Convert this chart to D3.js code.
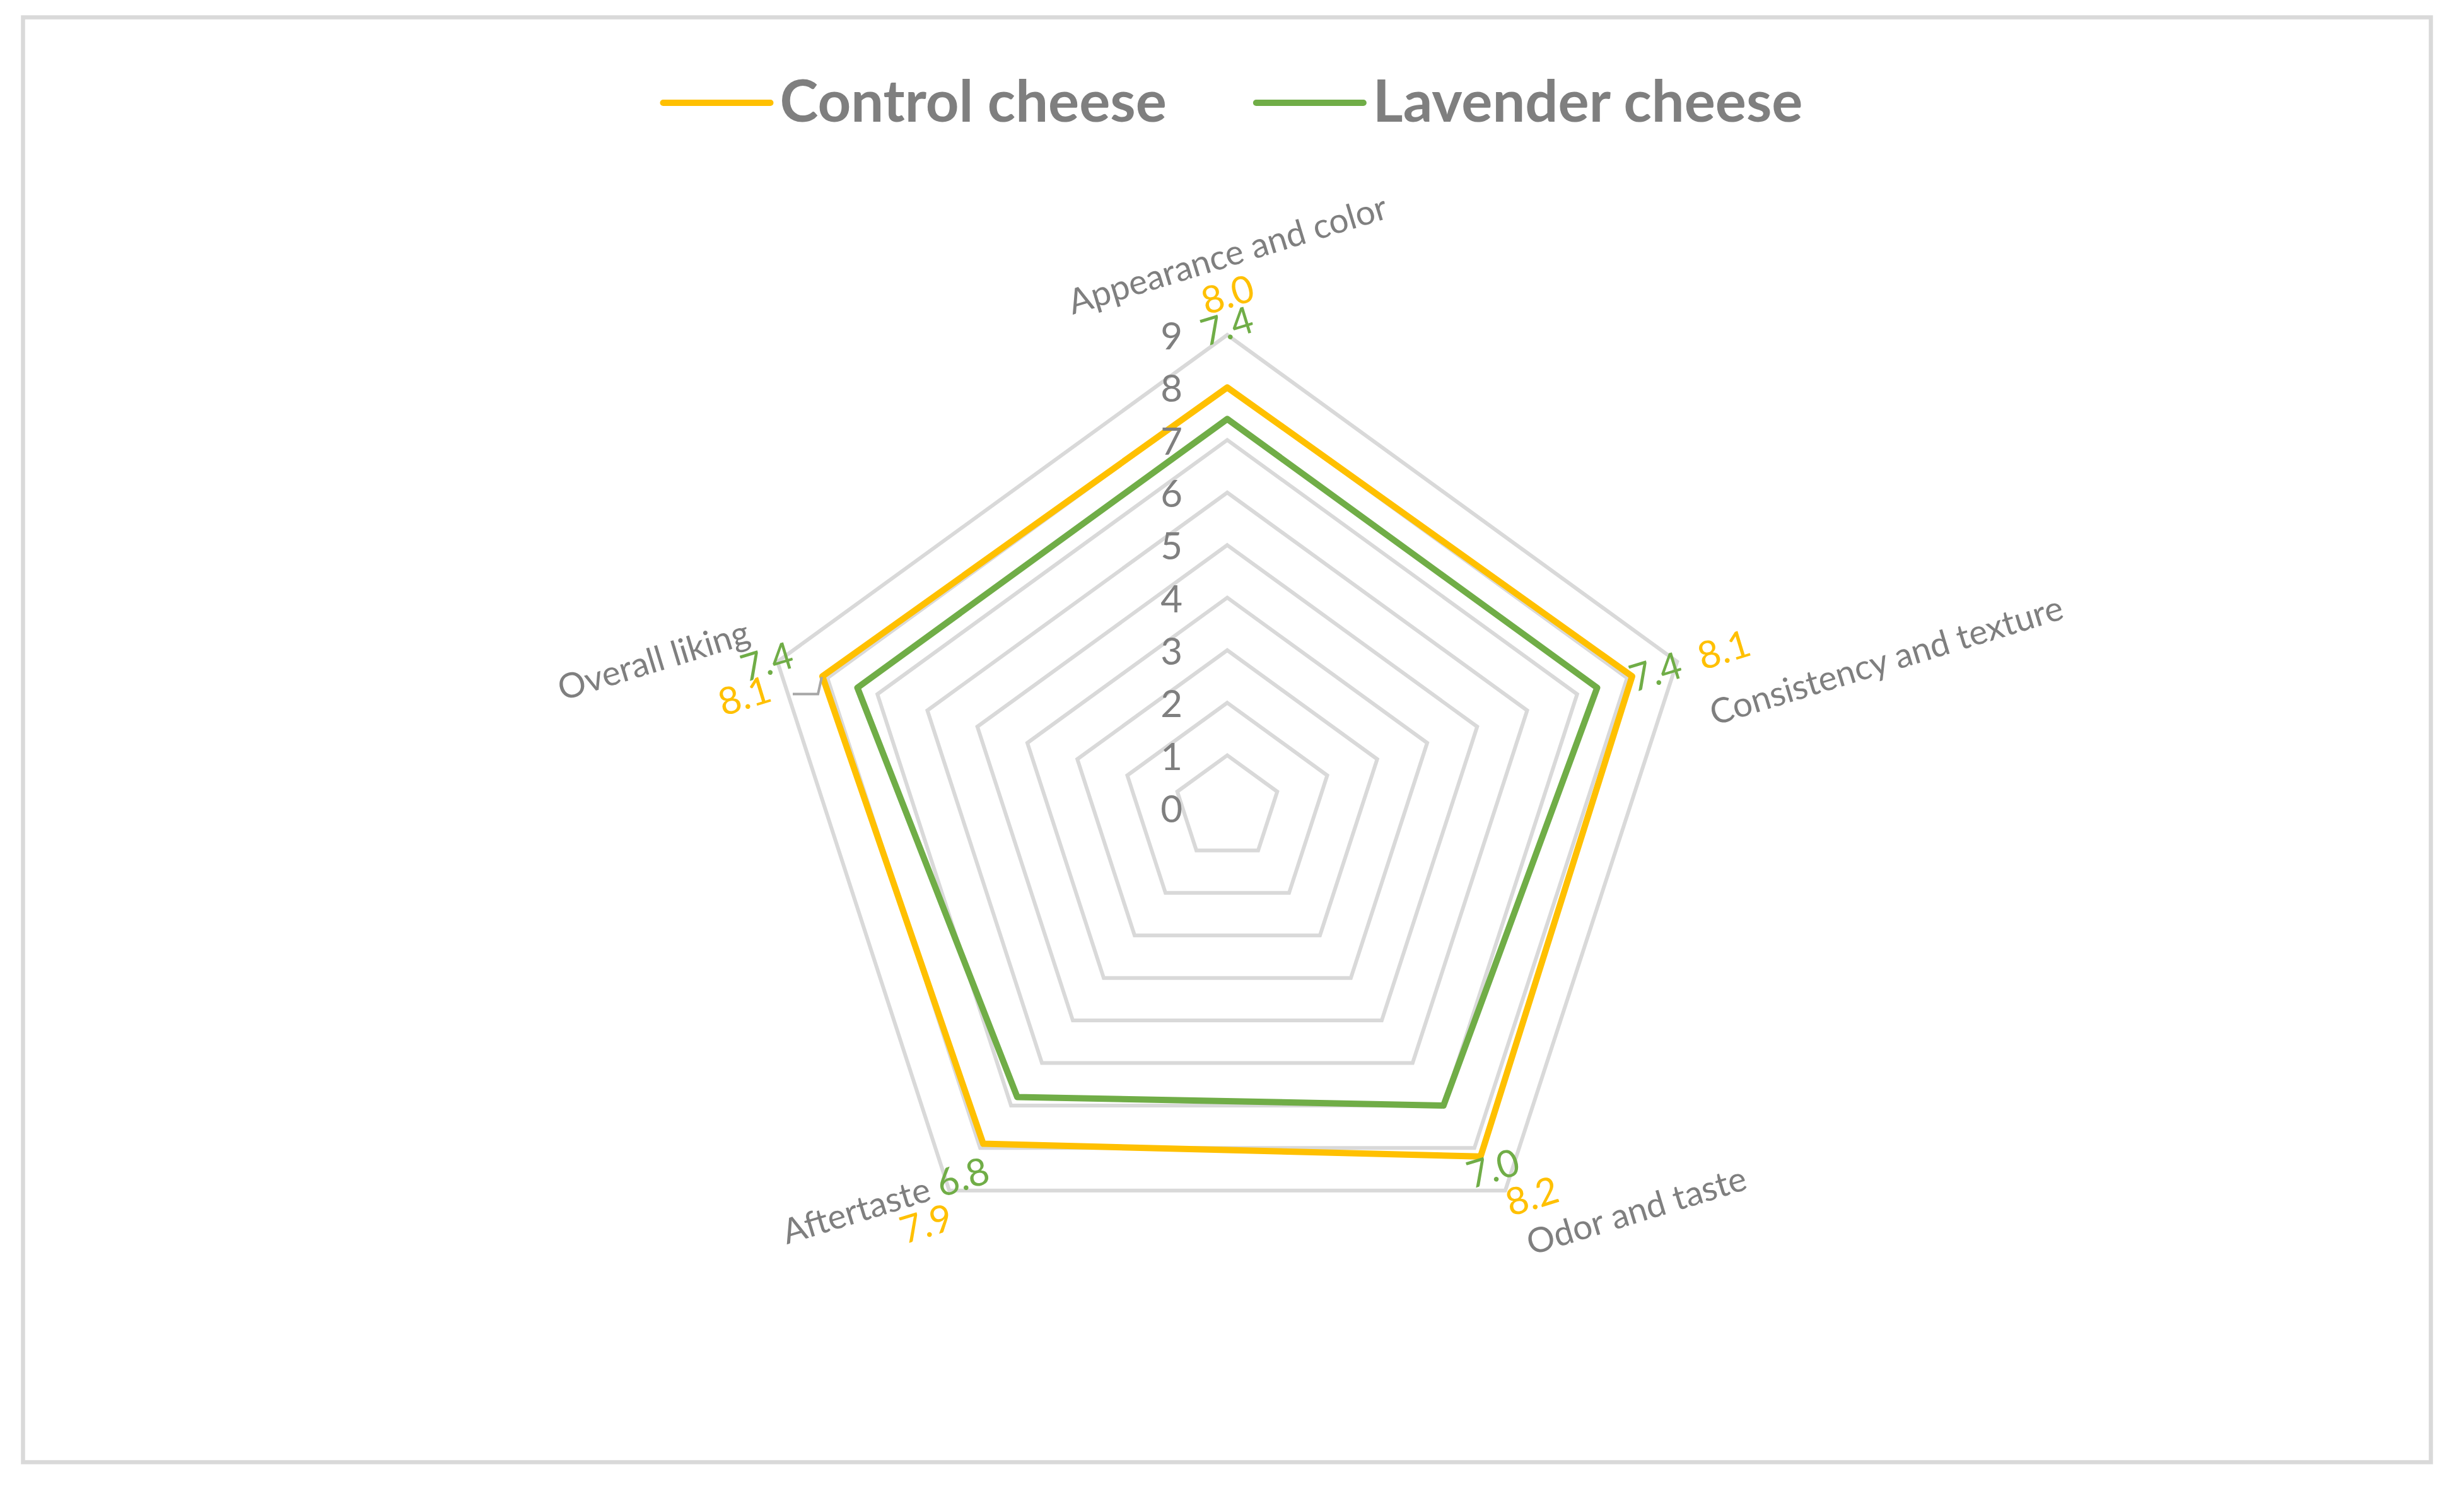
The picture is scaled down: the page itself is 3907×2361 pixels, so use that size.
<!DOCTYPE html>
<html><head><meta charset="utf-8">
<script src="https://cdn.jsdelivr.net/npm/d3@7"></script>
<style>
html,body{margin:0;padding:0;background:#fff;}
svg{display:block;}
text{font-family:Lato,"Open Sans",sans-serif;}
</style>
</head><body>
<svg id="chart" width="3907" height="2361"></svg>
<script>
// ---------- data ----------
const categories = ["Appearance and color","Consistency and texture","Odor and taste","Aftertaste","Overall liking"];
const seriesNames = ["Control cheese","Lavender cheese"];
const controlValues = [8.0, 8.1, 8.2, 7.9, 8.1];
const lavenderValues = [7.4, 7.4, 7.0, 6.8, 7.4];
const tickValues = [0,1,2,3,4,5,6,7,8,9];

// ---------- styling / layout ----------
const colors = ["#FFC000","#70AD47"];
const textGray = "#7f7f7f", gridGray = "#d9d9d9";
const W = 3907, H = 2361, cx = 1946, cy = 1281, R = 750;
const rot = -17;
// data label offsets relative to the point (per series, per category)
const labelOffsets = [
  [[0,-149],[145,-44],[81,61],[-91,125],[-124,29]],
  [[-1,-149],[92,-27],[78,98],[-87,125],[-144,-43]]
];

const svg = d3.select("#chart");
svg.append("rect").attr("width",W).attr("height",H).attr("fill","#fff");
svg.append("rect").attr("x",36.5).attr("y",27.5).attr("width",3818).attr("height",2291)
  .attr("fill","none").attr("stroke",gridGray).attr("stroke-width",6.5);

const r = d3.scaleLinear().domain([0, d3.max(tickValues)]).range([0, R]);
const ang = d3.scaleLinear().domain([0, categories.length]).range([0, 2*Math.PI]);
const pt = (i, v) => [cx + r(v)*Math.sin(ang(i)), cy - r(v)*Math.cos(ang(i))];

const g = svg.append("g").attr("transform", `translate(${cx},${cy})`);
const radial = d3.lineRadial().curve(d3.curveLinearClosed);

// grid rings
g.selectAll("path.ring").data(tickValues.filter(t => t > 0)).join("path")
  .attr("class","ring")
  .attr("d", t => radial(categories.map((c,i) => [ang(i), r(t)])))
  .attr("fill","none").attr("stroke",gridGray).attr("stroke-width",6)
  .attr("stroke-linejoin","miter");

// tick labels
svg.selectAll("text.tick").data(tickValues).join("text")
  .attr("class","tick")
  .attr("x", cx - 71).attr("y", t => cy - r(t))
  .attr("text-anchor","end").attr("dominant-baseline","central")
  .attr("font-size",60).attr("fill",textGray)
  .text(t => t);

// series
const series = [controlValues, lavenderValues];
g.selectAll("path.series").data(series).join("path")
  .attr("class","series")
  .attr("d", vals => radial(vals.map((v,i) => [ang(i), r(v)])))
  .attr("fill","none")
  .attr("stroke", (d,k) => colors[k])
  .attr("stroke-width",10)
  .attr("stroke-linejoin","round");

// leader line for control "Overall liking" label
{
  const [px, py] = pt(4, controlValues[4]);
  svg.append("path")
    .attr("d", d3.line()([[px - 1, py + 1], [px - 7, py + 28], [px - 47, py + 28]]))
    .attr("fill","none").attr("stroke","#a6a6a6").attr("stroke-width",4);
}

// data labels
series.forEach((vals, k) => {
  svg.selectAll(`text.dl${k}`).data(vals).join("text")
    .attr("class", `dl${k}`)
    .attr("transform", (v,i) => {
      const [px,py] = pt(i, v);
      const [dx,dy] = labelOffsets[k][i];
      return `translate(${px+dx},${py+dy}) rotate(${rot})`;
    })
    .attr("text-anchor","middle").attr("dominant-baseline","central")
    .attr("font-size",60).attr("fill",colors[k])
    .text(v => d3.format(".1f")(v));
});

// category labels
const maxT = d3.max(tickValues);
categories.forEach((c, i) => {
  const a = ang(i);
  const [vx, vy] = pt(i, maxT);
  const t = svg.append("text")
    .attr("text-anchor","middle").attr("dominant-baseline","central")
    .attr("font-size",55).attr("fill",textGray).text(c);
  const w = t.node().getComputedTextLength();
  const s = Math.sin(a), co = Math.cos(a);
  let x, y;
  if (Math.abs(s) < 0.1) { x = vx; y = vy - 129; }
  else if (co > -0.5) { x = vx + Math.sign(s)*(40 + w/2); y = vy - 4; }
  else { x = vx + Math.sign(s)*(27 + w/2); y = vy + 30; }
  t.attr("transform", `translate(${x},${y}) rotate(${rot})`);
});

// legend
const leg = svg.append("g");
let lx = 0;
const legLineW = 170, legGap = 15, legItemGap = 142, legY = 163;
seriesNames.forEach((n, k) => {
  leg.append("line").attr("x1", lx).attr("x2", lx + legLineW).attr("y1", legY).attr("y2", legY)
    .attr("stroke", colors[k]).attr("stroke-width",10).attr("stroke-linecap","round");
  lx += legLineW + legGap;
  const t = leg.append("text").attr("x", lx).attr("y", 193)
    .attr("font-size",92).attr("font-weight","bold").attr("fill",textGray).text(n);
  lx += t.node().getComputedTextLength() + legItemGap;
});
lx -= legItemGap;
leg.attr("transform", `translate(${1955 - lx/2},0)`);
</script>
</body></html>
